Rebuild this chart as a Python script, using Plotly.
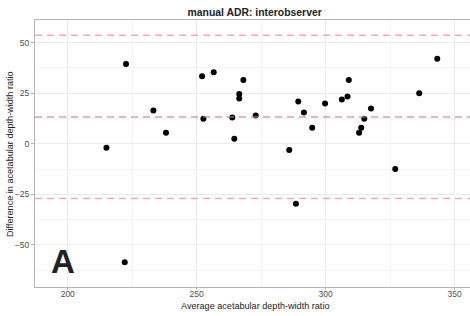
import plotly.graph_objects as go

avg = [222.6, 252.1, 256.6, 268.1, 266.5, 266.5, 233.2, 252.6, 263.8, 272.9,
       238.1, 264.6, 215.0, 289.4, 291.6, 294.8, 299.8, 306.3, 308.5, 309.0,
       317.6, 315.0, 313.8, 313.0, 336.3, 343.3, 285.9, 327.0, 288.5, 222.1]
diff = [39.5, 33.4, 35.4, 31.5, 24.6, 22.4, 16.5, 12.4, 13.0, 14.0,
        5.4, 2.5, -2.0, 20.9, 15.5, 7.9, 19.9, 21.9, 23.4, 31.5,
        17.5, 12.4, 7.9, 5.4, 25.0, 42.0, -3.1, -12.5, -29.6, -58.6]

mean_diff = 13.3
upper_loa = 53.6
lower_loa = -27.0

x_ticks = [200, 250, 300, 350]
y_ticks = [-50, -25, 0, 25, 50]

fig = go.Figure()
fig.add_trace(go.Scatter(x=avg, y=diff, mode="markers",
                         marker=dict(color="black", size=6), showlegend=False))

for val, col in [(upper_loa, "rgba(255,110,110,0.6)"), (lower_loa, "rgba(255,110,110,0.6)"),
                 (mean_diff, "rgba(200,130,130,0.75)")]:
    fig.add_hline(y=val, line=dict(color=col, width=1.5, dash="7px,5px"), layer="above")

fig.add_annotation(x=198, y=-58.2, text="<b>A</b>", showarrow=False,
                   font=dict(size=33, color="#222222", family="Liberation Sans"))

fig.add_annotation(x=0.505, y=-0.072, xref="paper", yref="paper", showarrow=False,
                   text="Average acetabular depth-width ratio", xanchor="center", yanchor="middle",
                   font=dict(size=9.1, color="#222222"))
fig.add_annotation(x=-0.0575, y=0.498, xref="paper", yref="paper", showarrow=False, textangle=-90,
                   text="Difference in acetabular depth-width ratio", xanchor="center", yanchor="middle",
                   font=dict(size=9.1, color="#222222"))

grid = "#ebebeb"
fig.update_layout(
    width=470, height=316,
    margin=dict(l=35, r=0, t=20, b=29, autoexpand=False),
    paper_bgcolor="white", plot_bgcolor="white",
    font=dict(family="Liberation Sans", size=8.5, color="#4d4d4d"),
    title=dict(text="<b>manual ADR: interobserver</b>", x=0.505, xref="paper", y=0.962, yanchor="middle",
               xanchor="center", font=dict(size=10.4, color="#222222")),
    xaxis=dict(range=[187.3, 356.0], tickvals=x_ticks, showgrid=True, gridcolor=grid,
               minor=dict(tickvals=[225, 275, 325], showgrid=True, gridcolor="#f4f4f4"),
               zeroline=False, showline=True, linecolor="#b3b3b3", mirror=True, automargin=False,
               ticks="outside", ticklen=2, tickcolor="#b3b3b3", ticklabelstandoff=-3),
    yaxis=dict(range=[-70.8, 61.2], tickvals=y_ticks, showgrid=True, gridcolor=grid,
               minor=dict(tickvals=[-62.5, -37.5, -12.5, 12.5, 37.5], showgrid=True, gridcolor="#f4f4f4"),
               zeroline=False, showline=True, linecolor="#b3b3b3", mirror=True, automargin=False,
               ticks="outside", ticklen=3, tickcolor="#b3b3b3"),
)

fig.write_html("out.html", config={"displayModeBar": False},
               post_script="document.body.style.margin='0';document.body.style.overflow='hidden';")
